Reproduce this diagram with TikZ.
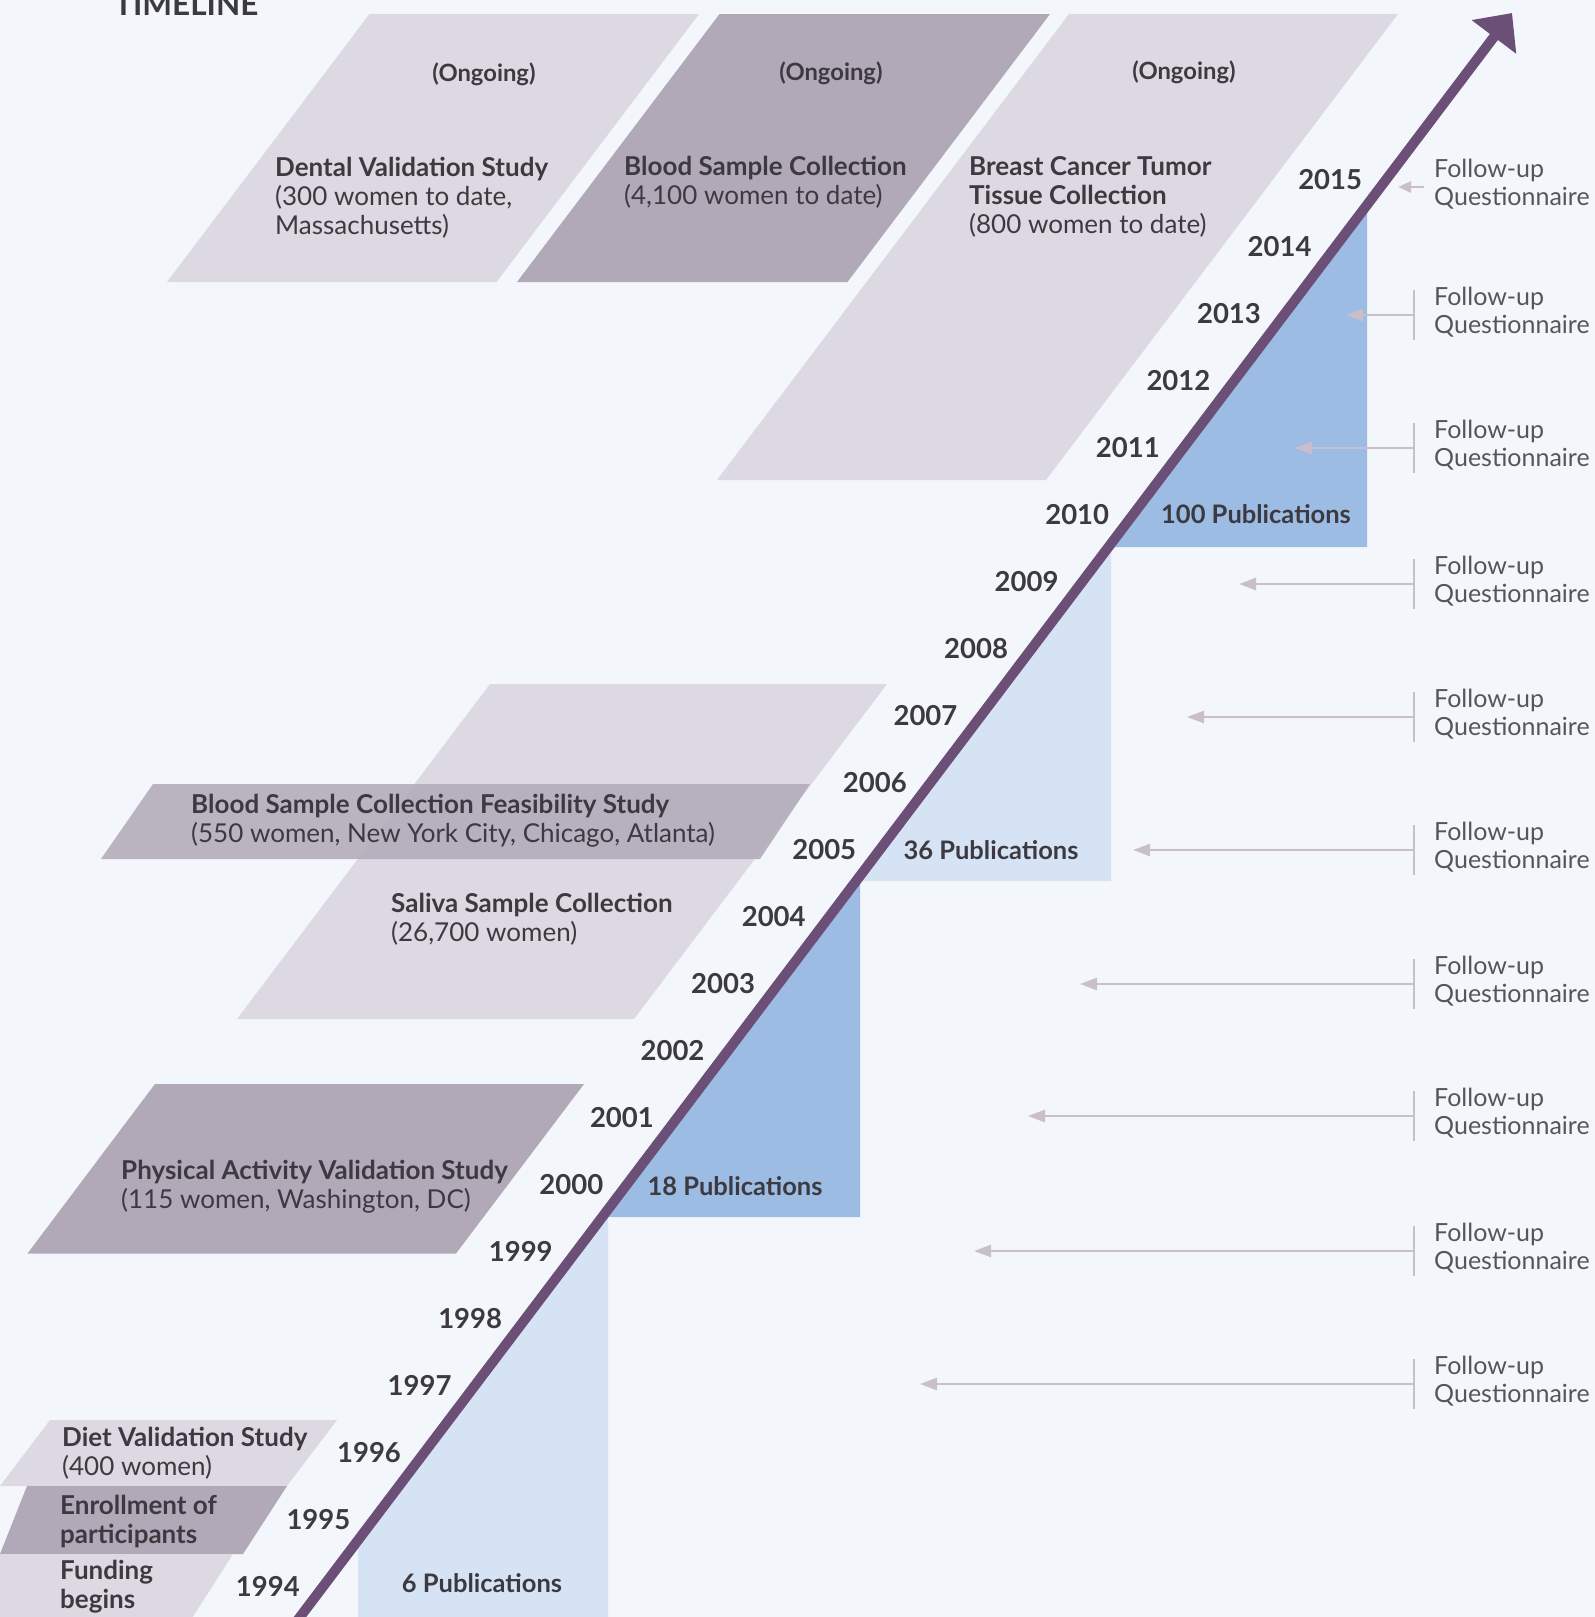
\documentclass[tikz,border=0pt]{standalone}
\usepackage{fontspec}
\setmainfont{Lato}
\usetikzlibrary{arrows.meta}
\definecolor{bg}{HTML}{F3F6FB}
\definecolor{lightpar}{HTML}{DDD9E3}
\definecolor{darkpar}{HTML}{B1A9B8}
\definecolor{lightblue}{HTML}{D6E3F5}
\definecolor{midblue}{HTML}{9DBCE3}
\definecolor{axiscol}{HTML}{6B4F76}
\definecolor{fuline}{HTML}{C9BFCB}
\definecolor{txt}{HTML}{3C3A40}
\definecolor{futxt}{HTML}{57555C}
\tikzset{
  lbl/.style={inner sep=0pt, text=txt, align=left, anchor=base west, font=\fontsize{26}{29}\selectfont},
  yearlbl/.style={inner sep=0pt, text=txt, anchor=east, font=\bfseries\fontsize{27.5}{30}\selectfont},
  publbl/.style={inner sep=0pt, text=txt, font=\bfseries\fontsize{25.5}{28}\selectfont},
  ongoinglbl/.style={inner sep=0pt, text=txt, font=\bfseries\fontsize{23.8}{26}\selectfont},
  fulbl/.style={inner sep=0pt, text=futxt, align=left, anchor=base west, font=\fontsize{25}{28.5}\selectfont},
  titlelbl/.style={inner sep=0pt, text=txt, anchor=base west, font=\bfseries\fontsize{31.5}{34}\selectfont},
  mainarrow/.style={draw=axiscol, line width=10pt, -{Triangle[length=30pt,width=54pt]}},
  fuarrow/.style={draw=fuline, line width=2.5pt, -{Triangle[length=17pt,width=12pt]}},
  fusmall/.style={draw=fuline, line width=2.5pt, -{Triangle[length=13pt,width=11pt]}},
  fubar/.style={draw=fuline, line width=2.5pt},
  lightshape/.style={fill=lightpar},
  darkshape/.style={fill=darkpar},
}
\begin{document}
\begin{tikzpicture}[x=1pt,y=-1pt]
\useasboundingbox (0,0) rectangle (1595,1617);
\clip (0,0) rectangle (1595,1617);
\fill[bg] (0,0) rectangle (1595,1617);

% publication areas
\fill[lightblue] (358,1640) -- (608,1640) -- (608,1209.4) -- (358,1540.2) -- cycle;
\fill[midblue] (602.2,1217) -- (860,1217) -- (860,875.9) -- cycle;
\fill[lightblue] (856.1,881) -- (1111,881) -- (1111,543.7) -- cycle;
\fill[midblue] (1108.5,547) -- (1367,547) -- (1367,204.9) -- cycle;

% study shapes
\fill[lightshape] (167,282) -- (369.5,14) -- (699,14) -- (496.5,282) -- cycle;
\fill[darkshape] (517,282) -- (719.5,14) -- (1050,14) -- (847.5,282) -- cycle;
\fill[lightshape] (717,480) -- (1069,14) -- (1398,14) -- (1046,480) -- cycle;
\fill[lightshape] (237,1019) -- (490,684) -- (887,684) -- (634,1019) -- cycle;
\fill[darkshape, fill opacity=0.85] (101,859) -- (153,784) -- (810,784) -- (760,859) -- cycle;
\fill[darkshape] (27.5,1253.5) -- (155,1084) -- (584,1084) -- (456,1253.5) -- cycle;
\fill[lightshape] (0,1486) -- (50,1420) -- (337,1420) -- (287,1486) -- cycle;
\fill[darkshape] (0,1554) -- (27,1486) -- (287,1486) -- (243,1554) -- cycle;
\fill[lightshape] (0,1640) -- (0,1554) -- (233,1554) -- (178,1640) -- cycle;

% main time axis
\coordinate (axisStart) at (267.5,1660);
\coordinate (axisEnd) at (1512,13);
\draw[mainarrow] (axisStart) -- (axisEnd);

% title
\node[titlelbl] (title) at (114,15) {TIMELINE};

% ongoing labels
\node[ongoinglbl] (ongoing1) at (484,74) {(Ongoing)};
\node[ongoinglbl] (ongoing2) at (831,73) {(Ongoing)};
\node[ongoinglbl] (ongoing3) at (1184,72) {(Ongoing)};

% study labels (anchor = baseline of last line)
\node[lbl] (dental) at (275,234) {\textbf{Dental Validation Study}\\(300 women to date,\\Massachusetts)};
\node[lbl] (blood) at (624,204) {\textbf{Blood Sample Collection}\\(4,100 women to date)};
\node[lbl] (breast) at (969,233) {\textbf{Breast Cancer Tumor}\\\textbf{Tissue Collection}\\(800 women to date)};
\node[lbl] (feasibility) at (191,842) {\textbf{Blood Sample Collection Feasibility Study}\\(550 women, New York City, Chicago, Atlanta)};
\node[lbl] (saliva) at (391,941) {\textbf{Saliva Sample Collection}\\(26,700 women)};
\node[lbl] (physical) at (121,1208) {\textbf{Physical Activity Validation Study}\\(115 women, Washington, DC)};
\node[lbl] (diet) at (62,1475) {\textbf{Diet Validation Study}\\(400 women)};
\node[lbl] (enroll) at (60,1543) {\textbf{Enrollment of}\\\textbf{participants}};
\node[lbl] (funding) at (60,1608) {\textbf{Funding}\\\textbf{begins}};

% publications
\node[publbl] (pub6) at (482,1583) {6 Publications};
\node[publbl] (pub18) at (735,1186) {18 Publications};
\node[publbl] (pub36) at (991,850) {36 Publications};
\node[publbl] (pub100) at (1256,514) {100 Publications};

% years
\foreach \i in {0,...,21}{
  \pgfmathsetmacro\yy{1586-66.95*\i}
  \pgfmathsetmacro\xx{300+0.7556*(1617-\yy)-23.5}
  \pgfmathtruncatemacro\yr{1994+\i}
  \node[yearlbl] (year\yr) at (\xx,\yy) {\yr};
}

% follow-up questionnaires
\node[fulbl] (fu2015) at (1434,205.5) {Follow-up\\Questionnaire};
\coordinate (fuTail2015) at (1424,187);
\coordinate (fuTip2015) at (1398,187);
\draw[fusmall] (fuTail2015) -- (fuTip2015);
\foreach \yr/\yy/\tx in {2013/315/1346, 2011/448/1295, 2009/584/1239, 2007/717/1187, 2005/850/1133, 2003/984/1080, 2001/1116/1028, 1999/1251/974, 1997/1384/920}{
  \node[fulbl] (fu\yr) at (1434,\yy+18.5) {Follow-up\\Questionnaire};
  \coordinate (fuBar\yr) at (1414,\yy);
  \coordinate (fuTip\yr) at (\tx,\yy);
  \draw[fubar] (1414,\yy-25) -- (1414,\yy+25);
  \draw[fuarrow] (fuBar\yr) -- (fuTip\yr);
}
\end{tikzpicture}
\end{document}
